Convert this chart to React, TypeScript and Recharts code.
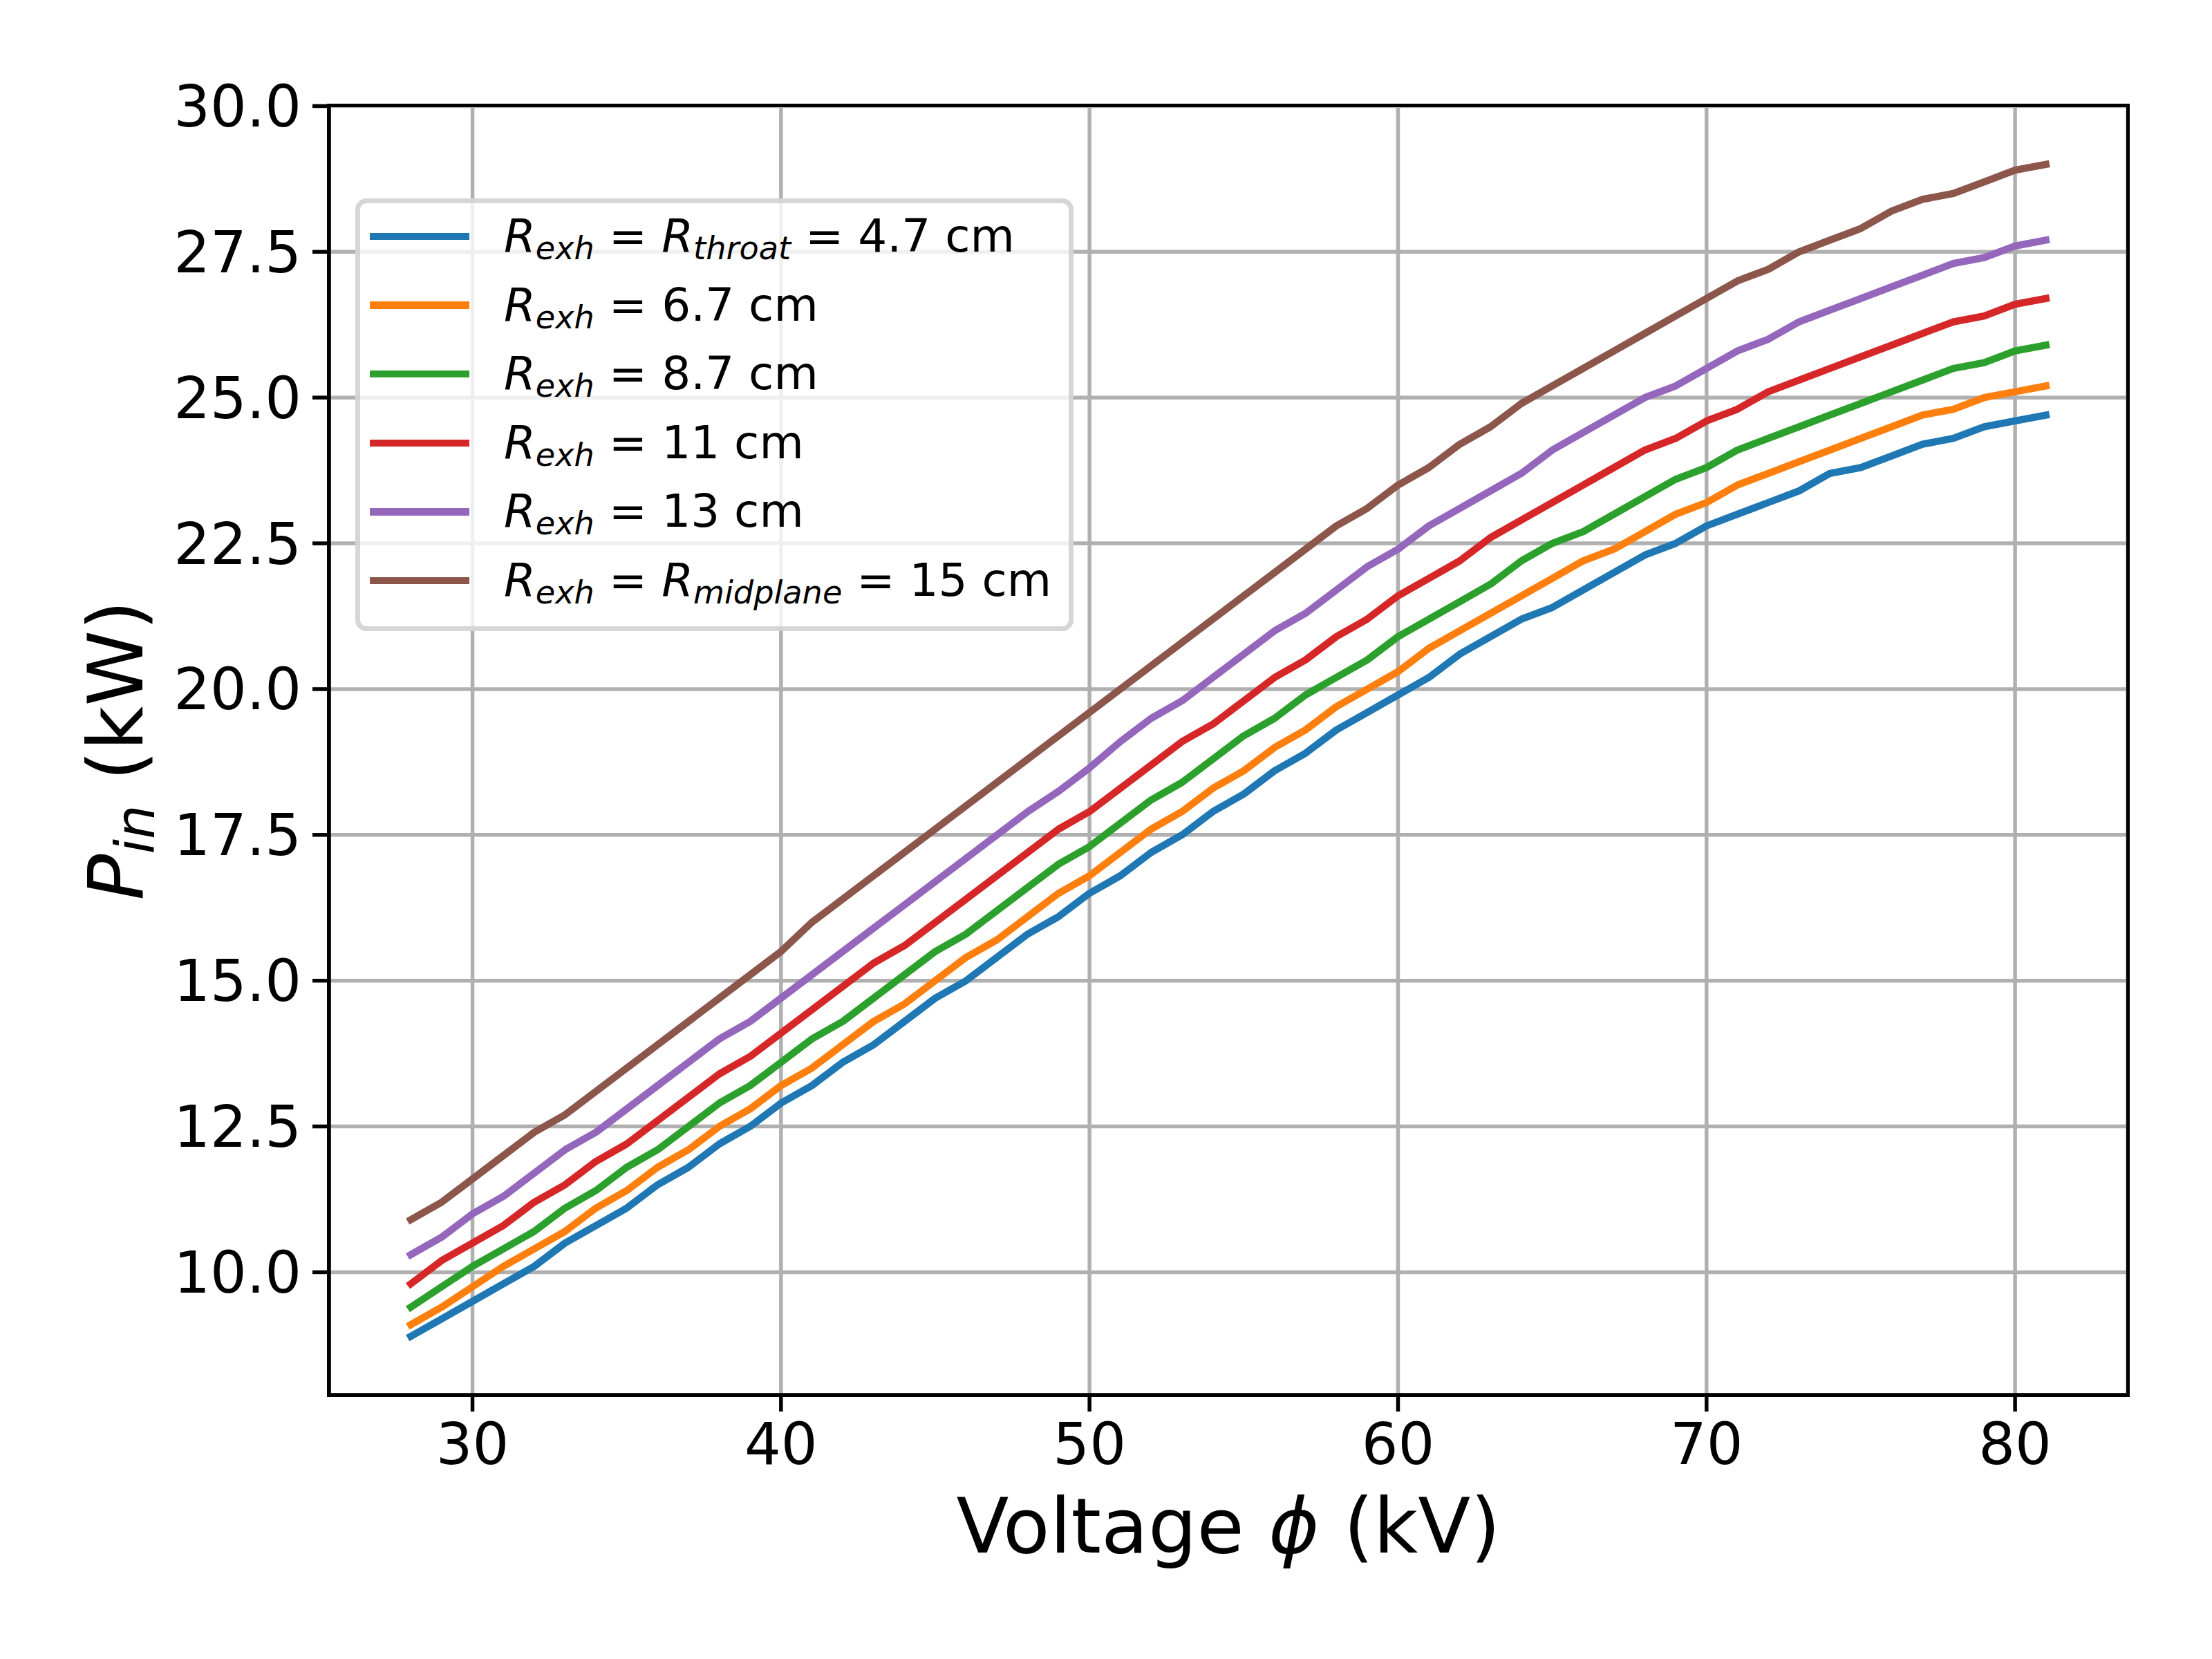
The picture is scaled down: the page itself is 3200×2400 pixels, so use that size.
import { CartesianGrid, Label, Legend, Line, LineChart, XAxis, YAxis } from "recharts"

const voltage = [
  28, 29, 30, 31, 32, 33, 34, 35, 36, 37,
  38, 39, 40, 41, 42, 43, 44, 45, 46, 47,
  48, 49, 50, 51, 52, 53, 54, 55, 56, 57,
  58, 59, 60, 61, 62, 63, 64, 65, 66, 67,
  68, 69, 70, 71, 72, 73, 74, 75, 76, 77,
  78, 79, 80, 81,
]

const rThroat47 = [
  8.9, 9.2, 9.5, 9.8, 10.1, 10.5, 10.8, 11.1, 11.5, 11.8,
  12.2, 12.5, 12.9, 13.2, 13.6, 13.9, 14.3, 14.7, 15.0, 15.4,
  15.8, 16.1, 16.5, 16.8, 17.2, 17.5, 17.9, 18.2, 18.6, 18.9,
  19.3, 19.6, 19.9, 20.2, 20.6, 20.9, 21.2, 21.4, 21.7, 22.0,
  22.3, 22.5, 22.8, 23.0, 23.2, 23.4, 23.7, 23.8, 24.0, 24.2,
  24.3, 24.5, 24.6, 24.7,
]

const r67 = [
  9.1, 9.4, 9.75, 10.1, 10.4, 10.7, 11.1, 11.4, 11.8, 12.1,
  12.5, 12.8, 13.2, 13.5, 13.9, 14.3, 14.6, 15.0, 15.4, 15.7,
  16.1, 16.5, 16.8, 17.2, 17.6, 17.9, 18.3, 18.6, 19.0, 19.3,
  19.7, 20.0, 20.3, 20.7, 21.0, 21.3, 21.6, 21.9, 22.2, 22.4,
  22.7, 23.0, 23.2, 23.5, 23.7, 23.9, 24.1, 24.3, 24.5, 24.7,
  24.8, 25.0, 25.1, 25.2,
]

const r87 = [
  9.4, 9.75, 10.1, 10.4, 10.7, 11.1, 11.4, 11.8, 12.1, 12.5,
  12.9, 13.2, 13.6, 14.0, 14.3, 14.7, 15.1, 15.5, 15.8, 16.2,
  16.6, 17.0, 17.3, 17.7, 18.1, 18.4, 18.8, 19.2, 19.5, 19.9,
  20.2, 20.5, 20.9, 21.2, 21.5, 21.8, 22.2, 22.5, 22.7, 23.0,
  23.3, 23.6, 23.8, 24.1, 24.3, 24.5, 24.7, 24.9, 25.1, 25.3,
  25.5, 25.6, 25.8, 25.9,
]

const r11 = [
  9.8, 10.2, 10.5, 10.8, 11.2, 11.5, 11.9, 12.2, 12.6, 13.0,
  13.4, 13.7, 14.1, 14.5, 14.9, 15.3, 15.6, 16.0, 16.4, 16.8,
  17.2, 17.6, 17.9, 18.3, 18.7, 19.1, 19.4, 19.8, 20.2, 20.5,
  20.9, 21.2, 21.6, 21.9, 22.2, 22.6, 22.9, 23.2, 23.5, 23.8,
  24.1, 24.3, 24.6, 24.8, 25.1, 25.3, 25.5, 25.7, 25.9, 26.1,
  26.3, 26.4, 26.6, 26.7,
]

const r13 = [
  10.3, 10.6, 11.0, 11.3, 11.7, 12.1, 12.4, 12.8, 13.2, 13.6,
  14.0, 14.3, 14.7, 15.1, 15.5, 15.9, 16.3, 16.7, 17.1, 17.5,
  17.9, 18.25, 18.65, 19.1, 19.5, 19.8, 20.2, 20.6, 21.0, 21.3,
  21.7, 22.1, 22.4, 22.8, 23.1, 23.4, 23.7, 24.1, 24.4, 24.7,
  25.0, 25.2, 25.5, 25.8, 26.0, 26.3, 26.5, 26.7, 26.9, 27.1,
  27.3, 27.4, 27.6, 27.7,
]

const rMidplane15 = [
  10.9, 11.2, 11.6, 12.0, 12.4, 12.7, 13.1, 13.5, 13.9, 14.3,
  14.7, 15.1, 15.5, 16.0, 16.4, 16.8, 17.2, 17.6, 18.0, 18.4,
  18.8, 19.2, 19.6, 20.0, 20.4, 20.8, 21.2, 21.6, 22.0, 22.4,
  22.8, 23.1, 23.5, 23.8, 24.2, 24.5, 24.9, 25.2, 25.5, 25.8,
  26.1, 26.4, 26.7, 27.0, 27.2, 27.5, 27.7, 27.9, 28.2, 28.4,
  28.5, 28.7, 28.9, 29.0,
]

const xTicks = [30, 40, 50, 60, 70, 80]
const yTicks = [10, 12.5, 15, 17.5, 20, 22.5, 25, 27.5, 30]

const series = [
  { key: "rThroat47", values: rThroat47, color: "#1f77b4", second: "throat", value: "4.7 cm" },
  { key: "r67", values: r67, color: "#ff7f0e", second: "", value: "6.7 cm" },
  { key: "r87", values: r87, color: "#2ca02c", second: "", value: "8.7 cm" },
  { key: "r11", values: r11, color: "#d62728", second: "", value: "11 cm" },
  { key: "r13", values: r13, color: "#9467bd", second: "", value: "13 cm" },
  { key: "rMidplane15", values: rMidplane15, color: "#8c564b", second: "midplane", value: "15 cm" },
]

const data = voltage.map((v, i) => {
  const row: Record<string, number> = { v }
  series.forEach((s) => { row[s.key] = s.values[i] })
  return row
})

const FONT = "DejaVu Sans"
const SPINE = 5.5
const W = 3200
const H = 2400
// plot box (matplotlib axes) in page pixels
const PLOT = { left: 476, top: 153, width: 2602, height: 1865 }
const Y_AXIS_W = 300
const X_AXIS_H = 250

function Sub({ children }: { children: string }) {
  return (
    <span style={{ fontStyle: "italic", fontSize: "0.7em", position: "relative", top: 11 }}>{children}</span>
  )
}

function LegendBox() {
  return (
    <div
      style={{
        position: "relative",
        width: 1039,
        height: 626,
        boxSizing: "border-box",
        border: "7px solid rgba(204,204,204,0.8)",
        borderRadius: 16,
        background: "rgba(255,255,255,0.8)",
        fontFamily: FONT,
        fontSize: 66,
        color: "#000",
      }}
    >
      {series.map((s, i) => (
        <div
          key={s.key}
          style={{
            position: "absolute",
            left: 14,
            top: 48 + i * 99.6 - 50,
            height: 100,
            display: "flex",
            alignItems: "center",
            whiteSpace: "nowrap",
            lineHeight: 1,
          }}
        >
          <span style={{ display: "inline-block", width: 144, height: 10.4, background: s.color, marginRight: 50 }} />
          <span>
            <i>R</i><Sub>exh</Sub>{" = "}
            {s.second ? <><i>R</i><Sub>{s.second}</Sub>{" = "}</> : null}
            {s.value}
          </span>
        </div>
      ))}
    </div>
  )
}

function XLabel(props: any) {
  const vb = props.viewBox || { x: PLOT.left, y: PLOT.top + PLOT.height, width: PLOT.width, height: X_AXIS_H }
  return (
    <text x={vb.x + vb.width / 2} y={vb.y + 228} textAnchor="middle" fontFamily={FONT} fontSize={111} fill="#000">
      Voltage <tspan fontStyle="italic">ϕ</tspan> (kV)
    </text>
  )
}

function YLabel(props: any) {
  const vb = props.viewBox || { x: PLOT.left - Y_AXIS_W, y: PLOT.top, width: Y_AXIS_W, height: PLOT.height }
  const x = vb.x + 30
  const y = vb.y + vb.height / 2
  return (
    <text x={x} y={y} transform={`rotate(-90, ${x}, ${y})`} textAnchor="middle" fontFamily={FONT} fontSize={111} fill="#000">
      <tspan fontStyle="italic">P</tspan>
      <tspan fontStyle="italic" fontSize={78} dy={17}>in</tspan>
      <tspan dy={-17}> (kW)</tspan>
    </text>
  )
}

export default function App() {
  const tickStyle = { fontSize: 83, fill: "#000", fontFamily: FONT }
  const lineStyle = { stroke: "#000", strokeWidth: SPINE }
  return (
    <div style={{ position: "absolute", left: 0, top: 0, width: W, height: H, background: "#fff", fontFamily: FONT }}>
      <LineChart
        width={W}
        height={H}
        data={data}
        margin={{
          top: PLOT.top,
          right: W - PLOT.left - PLOT.width,
          bottom: H - PLOT.top - PLOT.height - X_AXIS_H,
          left: PLOT.left - Y_AXIS_W,
        }}
      >
        <CartesianGrid stroke="#b0b0b0" strokeWidth={5.5} />
        <XAxis
          dataKey="v"
          type="number"
          domain={[25.35, 83.65]}
          ticks={xTicks}
          interval={0}
          allowDataOverflow
          height={X_AXIS_H}
          tickSize={24}
          tickMargin={17}
          tick={tickStyle}
          axisLine={lineStyle}
          tickLine={lineStyle}
        >
          <Label content={XLabel} />
        </XAxis>
        <YAxis
          type="number"
          domain={[7.895, 30.005]}
          ticks={yTicks}
          interval={0}
          allowDataOverflow
          width={Y_AXIS_W}
          tickSize={24}
          tickMargin={16}
          tick={tickStyle}
          tickFormatter={(v: number) => v.toFixed(1)}
          axisLine={lineStyle}
          tickLine={lineStyle}
        >
          <Label content={YLabel} />
        </YAxis>
        {series.map((s) => (
          <Line
            key={s.key}
            type="linear"
            dataKey={s.key}
            stroke={s.color}
            strokeWidth={10.4}
            strokeLinecap="square"
            strokeLinejoin="round"
            dot={false}
            activeDot={false}
            isAnimationActive={false}
          />
        ))}
        <Legend
          layout="vertical"
          align="center"
          verticalAlign="middle"
          content={() => <LegendBox />}
          wrapperStyle={{ position: "absolute", left: 514, top: 287, width: 1039, height: 626 }}
        />
      </LineChart>
      <div
        style={{
          position: "absolute",
          left: PLOT.left - SPINE / 2,
          top: PLOT.top - SPINE / 2,
          width: PLOT.width + SPINE,
          height: PLOT.height + SPINE,
          boxSizing: "border-box",
          border: `${SPINE}px solid #000`,
          pointerEvents: "none",
        }}
      />
    </div>
  )
}
